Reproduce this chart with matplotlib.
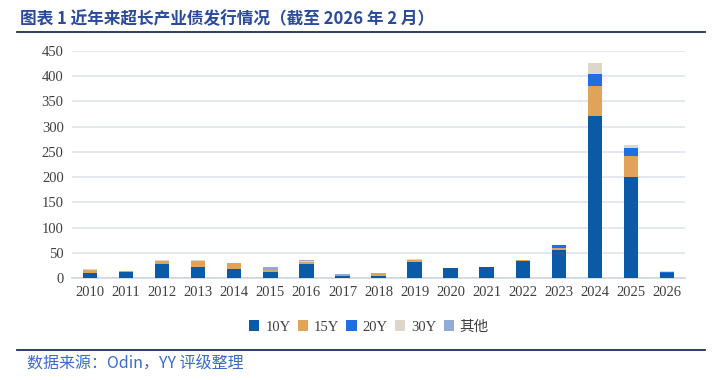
import matplotlib
matplotlib.use("Agg")
import matplotlib.pyplot as plt
from matplotlib.lines import Line2D
from matplotlib.patches import Patch
import numpy as np

years = ["2010", "2011", "2012", "2013", "2014", "2015", "2016", "2017", "2018",
         "2019", "2020", "2021", "2022", "2023", "2024", "2025", "2026"]
y10 = [10, 12, 27, 22.5, 18, 12.5, 28.5, 4, 4, 32, 19, 22, 34.5, 55.5, 322, 201, 9]
y15 = [6, 1, 7, 12, 11, 4, 4, 0, 5, 4.6, 0, 0, 1, 4.6, 59, 40, 0]
y20 = [0, 0, 0, 0, 0, 0, 0, 0, 0, 0, 0, 0, 0, 5.3, 23, 16.5, 3]
y30 = [1, 0.5, 1, 1, 0.5, 0, 0.5, 0, 1, 1, 0, 0, 0, 0, 22, 6.5, 1]
other = [0, 0, 0, 0, 0, 4.6, 3, 4, 0, 0, 1, 0, 0, 0, 0, 0, 0]
series_names = ["10Y", "15Y", "20Y", "30Y", "其他"]
colors = ["#0a5aa5", "#e0a35a", "#1f6fe3", "#dcd6cb", "#95aad3"]
yticks = list(range(0, 451, 50))

fig = plt.figure(figsize=(7.19, 3.80), dpi=100)
ax = fig.add_axes([72/719, 1-278/380, (685-72)/719, (278-51)/380])

x = np.arange(len(years))
bottom = np.zeros(len(years))
for vals, c in zip([y10, y15, y20, y30, other], colors):
    v = np.array(vals, dtype=float)
    ax.bar(x, v, width=0.4, bottom=bottom, color=c, edgecolor="none",
           linewidth=0, zorder=3)
    bottom += v

ax.set_xlim(-0.5, len(years) - 0.5)
ax.set_ylim(0, 450)
ax.set_yticks(yticks)
ax.set_xticks(x)
ax.set_xticklabels(years)
ax.yaxis.grid(True, color="#dfe4ec", linewidth=1.2, zorder=0)
for s in ["top", "right", "left"]:
    ax.spines[s].set_visible(False)
ax.spines["bottom"].set_color("#d0d7e2")
ax.spines["bottom"].set_linewidth(1.2)
ax.tick_params(axis="both", length=0, labelsize=10.5, colors="#404040", pad=6)
for lab in ax.get_xticklabels() + ax.get_yticklabels():
    lab.set_family("Liberation Serif")

handles = [Patch(facecolor=c, edgecolor="none") for c in colors]
leg = fig.legend(handles, series_names, loc="center", bbox_to_anchor=(369/719, 1-327/380),
                 ncol=5, frameon=False, handlelength=0.7, handleheight=0.7,
                 handletextpad=0.4, columnspacing=0.5,
                 prop={"family": ["Liberation Serif", "Noto Sans CJK SC"], "size": 10.5})
for t in leg.get_texts():
    t.set_color("#404040")

fig.text(20/719, 1-19/380, "图表 1 近年来超长产业债发行情况（截至 2026 年 2 月）",
         ha="left", va="center", fontsize=12, fontweight="bold", color="#2a4a9c",
         family=["Noto Sans CJK SC", "DejaVu Sans"])
fig.add_artist(Line2D([17/719, 705/719], [1-32/380, 1-32/380], color="#1b2f5a", linewidth=1.3))
fig.add_artist(Line2D([17/719, 705/719], [1-350/380, 1-350/380], color="#1b2f5a", linewidth=1.3))
fig.text(27/719, 1-363/380, "数据来源：Odin，YY 评级整理", ha="left", va="center",
         fontsize=11.5, color="#3a6cc8", family=["Noto Sans CJK SC", "DejaVu Sans"])

fig.savefig("out.png", dpi=100)
